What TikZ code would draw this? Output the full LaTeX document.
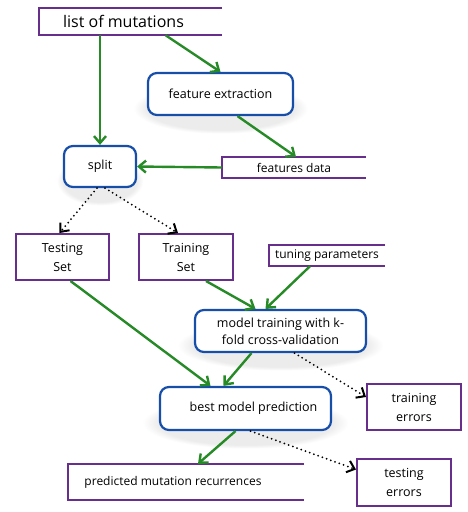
\documentclass[tikz,border=0pt]{standalone}
\usepackage{fontspec}
\setmainfont{Open Sans}
\usetikzlibrary{positioning}
\usetikzlibrary{arrows.meta,shadows}
\definecolor{flowgreen}{RGB}{38,138,38}
\definecolor{boxblue}{RGB}{22,78,170}
\definecolor{boxpurple}{RGB}{104,46,140}
\tikzset{
	>={Straight Barb[length=7pt,width=12pt]},
	roundbox/.style={
		rectangle,
		rounded corners=9pt,
		draw=boxblue, line width=2.2pt,
		fill=white,
		circular drop shadow={shadow xshift=0pt, shadow yshift=-12pt, shadow scale=1.2, opacity=0.15},
		inner sep=0pt,
		align=center,
		font=\fontsize{12.5}{17}\selectfont},
	plainbox/.style={
		rectangle,
		draw=boxpurple, line width=2pt,
		inner sep=0pt,
		align=center,
		font=\fontsize{12.5}{19}\selectfont},
	storebox/.style={
		rectangle,
		inner sep=0pt,
		font=\fontsize{12}{15}\selectfont},
	storeline/.style={draw=boxpurple, line width=2pt},
	flow/.style={->, draw=flowgreen, line width=2.4pt},
	dotflow/.style={->, black, line width=2pt, dash pattern=on 0pt off 4.5pt, line cap=round},
}
\begin{document}
\begin{tikzpicture}[x=1pt,y=-1pt]
	\useasboundingbox (0,0) rectangle (467,512);
	% stores (open on the right)
	\node[storebox, minimum width=183pt, minimum height=27pt, font=\fontsize{16}{19}\selectfont] (mut) at (130.5,21.5) {\hspace*{-14pt}list of mutations};
	\node[storebox, minimum width=144pt, minimum height=21pt] (fdata) at (294,167.5) {features data};
	\node[storebox, minimum width=116pt, minimum height=21pt] (tune) at (327,255.5) {tuning parameters};
	\node[storebox, minimum width=236pt, minimum height=36pt] (pred) at (186,482) {\hspace*{-26pt}predicted mutation recurrences};
	\foreach \n in {mut,fdata,tune,pred}
		\draw[storeline] (\n.north east) -- (\n.north west) -- (\n.south west) -- (\n.south east);
	% process steps
	\node[roundbox, minimum width=145pt, minimum height=42pt] (feat) at (220.5,94) {feature extraction};
	\node[roundbox, minimum width=72pt, minimum height=41pt] (split) at (100,166.5) {split};
	\node[roundbox, minimum width=171pt, minimum height=42pt, align=left] (model) at (280.5,331) {model training with k-\\\hspace*{5pt}fold cross-validation};
	\node[roundbox, minimum width=171pt, minimum height=43pt] (best) at (245.5,408.5) {\hspace*{16pt}best model prediction};
	% sets and errors
	\node[plainbox, minimum width=93pt, minimum height=46pt] (test) at (62.5,257) {Testing\\Set};
	\node[plainbox, minimum width=94pt, minimum height=46pt] (train) at (186,257) {Training\\Set};
	\node[plainbox, minimum width=94pt, minimum height=46pt] (trerr) at (414,407) {training\\errors};
	\node[plainbox, minimum width=94pt, minimum height=47pt] (teerr) at (404,482.5) {testing\\errors};
	% connectors
	\draw[flow] (mut.south -| split.north) -- (split.north);
	\draw[flow] ([xshift=35pt]mut.south) -- (feat.north);
	\draw[flow] ([xshift=17pt]feat.south) -- ([xshift=2pt]fdata.north);
	\draw[flow] (fdata.west) -- (split.east);
	\draw[dotflow] ([xshift=-3pt]split.south) -- ([xshift=-3pt]test.north);
	\draw[dotflow] ([xshift=5pt]split.south) -- ([xshift=-8pt]train.north);
	\draw[flow] ([xshift=20pt]train.south) -- ([xshift=-25pt]model.north);
	\draw[flow] ([xshift=-17pt]tune.south) -- ([xshift=-15pt]model.north);
	\draw[flow] ([xshift=8pt]test.south) -- ([xshift=-35pt]best.north);
	\draw[flow] ([xshift=-29pt]model.south) -- ([xshift=-22pt]best.north);
	\draw[dotflow] ([xshift=14pt]model.south) -- ([yshift=10pt]trerr.west);
	\draw[flow] ([xshift=-10pt]best.south) -- ([xshift=12pt]pred.north);
	\draw[dotflow] ([xshift=5pt]best.south) -- ([yshift=13pt]teerr.west);
\end{tikzpicture}
\end{document}
